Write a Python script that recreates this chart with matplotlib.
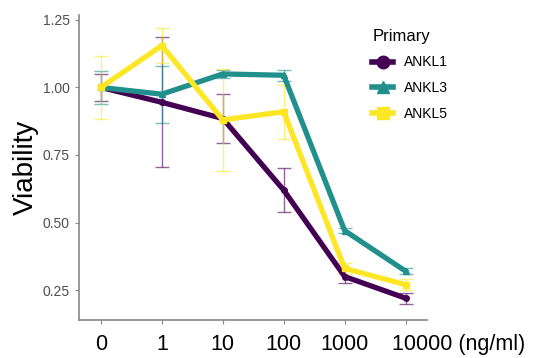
import numpy as np
import matplotlib.pyplot as plt
from matplotlib.lines import Line2D

plt.rcParams['font.family'] = ['Liberation Sans', 'DejaVu Sans']

# dose labels (ng/ml)
doses = ['0', '1', '10', '100', '1000', '10000']

# mean viability per line
ankl1 = [1.00, 0.945, 0.885, 0.62, 0.30, 0.22]
ankl3 = [1.00, 0.975, 1.05, 1.045, 0.47, 0.32]
ankl5 = [1.00, 1.155, 0.88, 0.91, 0.33, 0.27]

# error bar half-widths
ankl1_err = [0.05, 0.24, 0.09, 0.08, 0.025, 0.02]
ankl3_err = [0.06, 0.105, 0.015, 0.02, 0.01, 0.01]
ankl5_err = [0.115, 0.065, 0.19, 0.10, 0.02, 0.02]

names = ['ANKL1', 'ANKL3', 'ANKL5']
colors = ['#440154', '#21908C', '#FDE725']
markers = ['o', '^', 's']

fig = plt.figure(figsize=(5.37, 3.58), dpi=100)
fig.patch.set_facecolor('white')
ax = fig.add_axes([0.147, 0.106, 0.648, 0.852])

x = np.arange(len(doses))
series = [(ankl1, ankl1_err), (ankl3, ankl3_err), (ankl5, ankl5_err)]
for (vals, err), col, mk in zip(series, colors, markers):
    ax.errorbar(x, vals, yerr=err, fmt='none', ecolor=col, elinewidth=1,
                capsize=5, capthick=1, alpha=0.6, zorder=2)
    ax.plot(x, vals, color=col, linewidth=3.8, marker=mk, markersize=4,
            zorder=3)

ax.set_xlim(-0.36, 5.35)
ax.set_ylim(0.139, 1.268)
ax.set_xticks(x)
# last label is drawn by hand together with the unit
ax.set_xticklabels(doses[:-1] + [''], fontsize=15.5)
ax.annotate(doses[-1] + ' (ng/ml)', xy=(5, 0), xycoords=('data', 'axes fraction'),
            xytext=(-10, -17.5), textcoords='offset points',
            ha='left', va='center', fontsize=15.5)
ax.set_yticks([0.25, 0.50, 0.75, 1.00, 1.25])
ax.set_yticklabels(['0.25', '0.50', '0.75', '1.00', '1.25'], fontsize=10, color='#4d4d4d')
ax.set_ylabel('Viability', fontsize=20, labelpad=3)

for s in ['top', 'right']:
    ax.spines[s].set_visible(False)
for s in ['left', 'bottom']:
    ax.spines[s].set_color('#888888')
    ax.spines[s].set_linewidth(1.2)
ax.tick_params(color='#888888', length=3)
ax.tick_params(axis='x', pad=7)

handles = [Line2D([0], [0], color=c, marker=m, linewidth=4, markersize=9)
           for c, m in zip(colors, markers)]
leg = fig.legend(handles, names, title='Primary', loc='upper left',
                 bbox_to_anchor=(0.67, 0.955), frameon=False, fontsize=10,
                 title_fontsize=12, handlelength=1.5, labelspacing=0.85)
leg._legend_box.align = 'left'

fig.savefig('out.png', dpi=100)
